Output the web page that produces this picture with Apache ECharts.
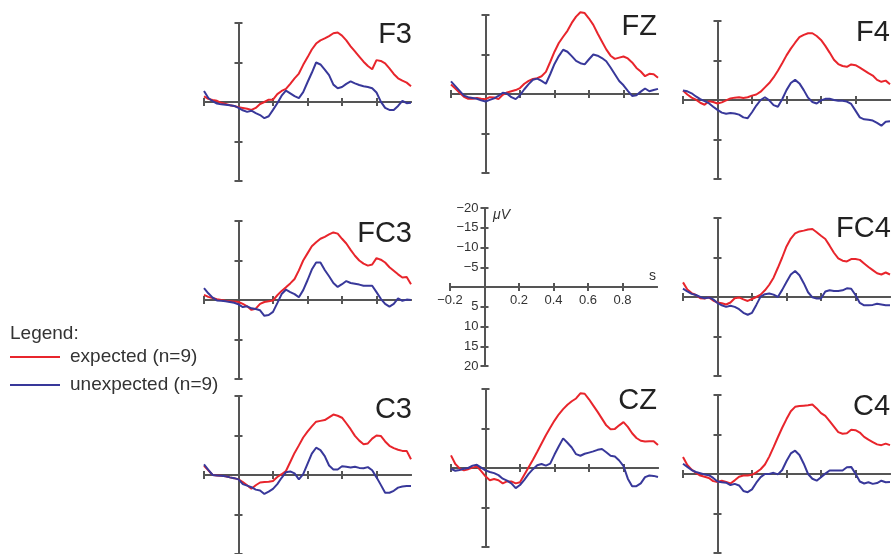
<!DOCTYPE html>
<html>
<head>
<meta charset="utf-8">
<script src="https://cdn.jsdelivr.net/npm/echarts@6/dist/echarts.min.js"></script>
<style>
  html, body { margin: 0; padding: 0; background: #fff; }
  #chart { width: 892px; height: 554px; }
</style>
</head>
<body>
<div id="chart"></div>
<script>
// sample times (s), shared by every waveform
const times = [
  -0.2, -0.175, -0.15, -0.125, -0.1, -0.075, -0.05, -0.025, 0,
  0.025, 0.05, 0.075, 0.1, 0.125, 0.15, 0.175, 0.2,
  0.225, 0.25, 0.275, 0.3, 0.325, 0.35, 0.375, 0.4,
  0.425, 0.45, 0.475, 0.5, 0.525, 0.55, 0.575, 0.6,
  0.625, 0.65, 0.675, 0.7, 0.725, 0.75, 0.775, 0.8,
  0.825, 0.85, 0.875, 0.9, 0.925, 0.95, 0.975, 1.0,
];

// amplitudes in µV (negative plotted up)
const f3Expected = [-1.4, -0.8, -0.5, -0.3, 0.2, 0.5, 0.8, 1.0, 1.3, 1.5, 1.7, 2.0, 1.5, 0.5, 0, -0.6, -0.6, -2.0, -2.8, -3.3, -4.6, -6.0, -7.2, -9.4, -11.3, -13.3, -14.8, -15.6, -16.1, -16.7, -17.4, -17.6, -16.8, -15.6, -14.1, -12.8, -11.5, -10.2, -9.1, -8.3, -10.6, -10.4, -9.8, -8.5, -7.1, -6.0, -5.4, -4.9, -4.0];
const f3Unexpected = [-2.8, -1.0, -0.2, 0.4, 0.6, 0.7, 0.8, 1.0, 1.5, 2.1, 2.5, 2.2, 2.8, 3.3, 4.1, 3.6, 2.0, 0.3, -1.6, -2.9, -2.2, -1.5, -1.0, -2.5, -5.0, -7.4, -10.0, -9.5, -8.2, -6.8, -4.4, -3.5, -3.8, -4.6, -5.2, -4.7, -4.3, -4.0, -3.8, -3.5, -2.4, -0.1, 1.5, 2.0, 2.0, 1.0, -0.3, 0.3, 0.2];

const fzExpected = [-2.4, -1.4, -0.3, 0.7, 1.2, 1.2, 1.0, 1.2, 1.3, 0.8, 0.9, 1.3, 0.2, -0.4, -0.7, -1.0, -1.5, -2.6, -3.3, -3.8, -4.0, -4.5, -5.6, -8.1, -10.7, -12.9, -14.5, -16.0, -18.0, -19.6, -20.7, -20.5, -19.1, -17.5, -15.3, -13.3, -11.3, -9.7, -8.9, -9.2, -9.5, -9.0, -8.0, -6.6, -5.7, -4.5, -5.1, -5.0, -4.1];
const fzUnexpected = [-3.2, -2.0, -0.8, 0.4, 0.8, 1.0, 1.2, 1.6, 1.9, 1.5, 1.1, 0.5, -0.3, -0.1, 0.8, 1.3, 0.3, -1.2, -2.5, -3.6, -3.9, -3.3, -2.6, -5.0, -7.6, -9.6, -11.2, -10.7, -9.6, -8.4, -7.8, -7.5, -8.8, -10.0, -9.7, -9.1, -8.3, -6.7, -5.0, -3.3, -2.2, -0.8, 0.5, 0.3, -0.6, -1.4, -0.7, -1.0, -1.3];

const f4Expected = [-2.4, -1.4, -0.6, -0.1, 0.7, 1.2, 0.3, 0.5, 0.9, 0.6, 0.1, -0.4, -0.6, -0.7, -0.5, -0.7, -1.1, -1.4, -2.1, -3.2, -4.3, -5.7, -7.4, -9.3, -11.3, -13.0, -14.5, -15.9, -16.5, -16.9, -16.9, -16.2, -15.2, -13.7, -12.0, -10.2, -9.1, -8.6, -8.4, -9.0, -8.8, -8.2, -7.5, -6.8, -6.2, -5.1, -4.6, -4.9, -4.0];
const f4Unexpected = [-2.4, -2.2, -1.7, -0.9, -0.2, 0.3, 0.8, 1.7, 2.5, 3.2, 3.5, 3.3, 3.4, 3.7, 4.4, 4.6, 3.1, 1.4, 0.0, -0.7, 0.1, 1.3, 1.7, -0.2, -2.5, -4.3, -5.1, -4.2, -2.5, -0.6, 0.5, 0.9, 0.1, -0.3, -0.3, 0.0, 0.2, 0.2, 0.4, 1.0, 2.7, 4.4, 4.9, 5.0, 5.2, 5.8, 6.5, 5.5, 5.4];

const fc3Expected = [-1.3, -0.8, -0.5, -0.2, 0, 0.2, 0.3, 0.4, 0.5, 1.0, 1.6, 2.5, 2.2, 1.0, 0.5, 0.3, 0.1, -1.2, -2.3, -3.2, -4.2, -5.3, -7.5, -10.0, -11.8, -13.6, -14.6, -15.5, -16.0, -16.6, -17.1, -16.8, -15.5, -14.3, -12.7, -11.2, -10.0, -9.2, -8.7, -9.0, -10.6, -10.2, -9.5, -8.3, -7.4, -6.5, -5.7, -5.8, -4.0];
const fc3Unexpected = [-3.0, -1.7, -0.6, 0.1, 0.2, 0.3, 0.5, 0.7, 1.1, 1.8, 1.6, 2.1, 2.3, 2.6, 4.0, 3.8, 3.0, 0.8, -1.5, -2.6, -2.0, -1.5, -0.7, -2.5, -5.0, -7.7, -9.5, -9.5, -7.6, -6.0, -4.3, -3.3, -4.0, -4.8, -4.3, -4.1, -3.9, -3.6, -3.6, -3.6, -2.0, -0.3, 1.0, 1.7, 1.0, -0.4, 0.2, -0.1, 0];

const fc4Expected = [-3.7, -1.9, -1.0, -0.5, 0.3, 0.4, 0.1, 0.9, 1.4, 1.6, 1.9, 1.4, 0.3, 0.1, 0.6, 1.0, 0.5, 0.0, -0.6, -1.7, -3.1, -4.9, -7.4, -10.0, -12.8, -14.8, -16.1, -16.6, -16.8, -17.1, -17.2, -16.4, -15.5, -14.7, -13.0, -11.2, -9.8, -9.2, -9.0, -9.6, -9.6, -9.4, -8.5, -7.6, -6.8, -6.0, -5.7, -6.2, -5.7];
const fc4Unexpected = [-2.1, -1.4, -0.8, -0.5, 0.0, 0.3, 0.1, 0.6, 1.5, 2.1, 2.5, 2.2, 2.5, 3.1, 4.0, 4.5, 4.0, 2.0, -0.1, -0.7, -0.9, -0.6, 0.0, -1.8, -3.8, -5.7, -6.6, -5.5, -3.5, -1.2, 0.1, 0.4, 0.4, -1.4, -1.7, -1.5, -1.5, -1.7, -2.2, -2.1, -0.5, 1.5, 2.1, 2.1, 2.0, 1.7, 1.9, 2.1, 2.1];

const c3Expected = [-2.3, -1.2, 0, 0.1, 0.2, 0.3, 0.6, 0.8, 1.1, 1.8, 2.6, 3.5, 2.6, 1.9, 1.8, 1.7, 1.5, 0.5, -0.2, -1.0, -3.3, -5.6, -7.5, -9.5, -11.0, -12.3, -13.5, -13.7, -13.9, -14.6, -15.3, -15.0, -14.5, -13.1, -11.6, -9.9, -8.7, -7.8, -8.0, -9.2, -10.0, -9.9, -8.5, -7.4, -6.8, -6.4, -6.1, -6.1, -4.0];
const c3Unexpected = [-2.7, -1.3, 0, 0.1, 0.2, 0.3, 0.6, 0.8, 1.1, 2.3, 2.7, 3.1, 3.7, 3.9, 4.8, 4.2, 3.5, 2.3, 0.7, -0.7, -0.9, -0.4, 1.1, -0.2, -2.8, -5.4, -6.9, -6.3, -4.8, -2.4, -1.4, -1.4, -2.2, -2.1, -1.9, -2.1, -1.8, -1.7, -2.0, -1.2, 0.6, 2.5, 4.5, 4.5, 4.0, 3.2, 2.9, 2.8, 2.8];

const czExpected = [-3.2, -1.0, 0.1, 0.6, 0.3, -0.1, -0.4, 0.8, 2.1, 3.1, 2.8, 3.1, 3.9, 3.4, 3.4, 3.9, 3.6, 1.7, -0.2, -2.1, -4.1, -6.2, -8.3, -10.2, -12.0, -13.6, -14.9, -16.0, -16.9, -17.6, -18.9, -18.8, -17.4, -15.8, -14.2, -12.5, -10.8, -9.8, -9.9, -10.8, -11.6, -10.4, -8.8, -7.6, -6.9, -6.7, -6.8, -6.8, -5.8];
const czUnexpected = [0.2, 0.7, 0.5, 0.2, 0.0, -0.6, -0.8, -0.1, 0.6, 1.0, 1.3, 1.8, 2.7, 3.2, 3.9, 5.1, 4.3, 3.0, 1.5, 0.3, -0.7, -1.0, -0.6, -1.1, -3.4, -5.5, -7.5, -6.4, -5.2, -3.5, -3.1, -3.6, -3.9, -4.2, -4.6, -4.8, -4.0, -3.1, -2.9, -1.9, -0.5, 2.7, 4.6, 4.6, 3.9, 2.3, 1.9, 2.0, 2.3];

const c4Expected = [-4.3, -2.3, -1.1, -0.3, 0.4, 0.7, 1.0, 1.8, 2.0, 1.7, 2.0, 2.4, 1.6, 0.7, 0.4, 0.4, 0.2, -0.4, -1.2, -2.4, -4.4, -6.8, -9.3, -11.7, -13.9, -15.9, -17.0, -17.2, -17.3, -17.4, -17.6, -16.6, -15.4, -14.7, -13.4, -12.0, -10.6, -10.2, -10.3, -11.2, -11.1, -10.5, -9.4, -8.7, -8.1, -7.5, -7.3, -7.7, -7.3];
const c4Unexpected = [-2.6, -1.8, -1.0, -0.5, -0.2, 0.1, 0.3, 1.0, 1.9, 2.1, 2.2, 2.8, 2.5, 2.9, 4.3, 4.6, 3.9, 2.2, 0.8, 0.0, 0.0, -0.3, 0.1, -1.0, -3.3, -5.2, -5.9, -4.8, -2.6, 0.0, 1.2, 1.7, 0.8, -0.1, -0.9, -0.9, -0.9, -0.9, -1.7, -1.8, -0.1, 1.9, 2.4, 2.1, 2.5, 2.3, 1.7, 2.1, 2.0];

const seriesNames = ["expected (n=9)", "unexpected (n=9)"];
const xTicks = [-0.2, 0.2, 0.4, 0.6, 0.8];
const yTicks = [-20, -10, 10, 20];
const scaleXLabels = [-0.2, 0.2, 0.4, 0.6, 0.8];

const panels = [
  { name: "F3", expected: f3Expected, unexpected: f3Unexpected },
  { name: "FZ", expected: fzExpected, unexpected: fzUnexpected },
  { name: "F4", expected: f4Expected, unexpected: f4Unexpected },
  { name: "FC3", expected: fc3Expected, unexpected: fc3Unexpected },
  { name: "FC4", expected: fc4Expected, unexpected: fc4Unexpected },
  { name: "C3", expected: c3Expected, unexpected: c3Unexpected },
  { name: "CZ", expected: czExpected, unexpected: czUnexpected },
  { name: "C4", expected: c4Expected, unexpected: c4Unexpected },
];

// pixel boxes of each small plot (x: -0.2..1.0 s, y: -20..20 µV)
const boxes = {
  F3:  { left: 204, top: 23,  lx: 412, ly: 35,  align: "right" },
  FZ:  { left: 451, top: 15,  lx: 657, ly: 27,  align: "right" },
  F4:  { left: 683, top: 21,  lx: 856, ly: 33,  align: "left" },
  FC3: { left: 204, top: 221, lx: 412, ly: 234, align: "right" },
  FC4: { left: 683, top: 218, lx: 836, ly: 229, align: "left" },
  C3:  { left: 204, top: 396, lx: 412, ly: 410, align: "right" },
  CZ:  { left: 451, top: 389, lx: 657, ly: 401, align: "right" },
  C4:  { left: 683, top: 395, lx: 853, ly: 407, align: "left" },
  scale: { left: 450, top: 208 },
};
const PW = 207, PH = 158;
const X_MIN = -0.2, X_MAX = 1.0;

const RED = "#e8252c";
const BLUE = "#38389a";
const AXIS = "#555555";
const FONT = "Liberation Sans, Arial, sans-serif";

const grids = [];
const xAxes = [];
const yAxes = [];
const series = [];
const graphics = [];

function minus(v) {
  return v < 0 ? "\u2212" + String(-v) : String(v);
}

function addPanel(box, withLabels) {
  const g = grids.length;
  grids.push({ left: box.left, top: box.top, width: PW, height: PH });
  ["bottom", "top"].forEach((pos) => {
    const labelled = withLabels && pos === "bottom";
    xAxes.push({
      gridIndex: g,
      type: "value",
      position: pos,
      min: X_MIN,
      max: X_MAX,
      // the labelled axis is shifted onto y = 0 (labels stay with it)
      offset: labelled ? -PH / 2 : 0,
      axisLine: {
        onZero: !labelled,
        onZeroAxisIndex: 2 * g,
        lineStyle: { color: AXIS, width: 2 },
      },
      axisTick: {
        customValues: xTicks,
        length: 4,
        lineStyle: { color: AXIS, width: 2 },
      },
      axisLabel: {
        show: labelled,
        customValues: scaleXLabels,
        margin: 7,
        fontSize: 13,
        fontFamily: FONT,
        color: "#333",
        formatter: (v) => (v < 0 ? "\u2212" + (-v).toFixed(1) : v.toFixed(1)),
      },
      splitLine: { show: false },
    });
  });
  ["left", "right"].forEach((pos) => {
    const labelled = withLabels && pos === "left";
    yAxes.push({
      gridIndex: g,
      type: "value",
      position: pos,
      inverse: true,
      min: -20,
      max: 20,
      interval: 5,
      offset: labelled ? -PW * (0 - X_MIN) / (X_MAX - X_MIN) : 0,
      axisLine: {
        onZero: !labelled,
        onZeroAxisIndex: 2 * g,
        lineStyle: { color: AXIS, width: 2 },
      },
      axisTick: withLabels
        ? { length: 4, lineStyle: { color: AXIS, width: 2 } }
        : { customValues: yTicks, length: 4, lineStyle: { color: AXIS, width: 2 } },
      axisLabel: {
        show: labelled,
        margin: 6,
        fontSize: 13,
        fontFamily: FONT,
        color: "#333",
        formatter: (v) => (v === 0 ? "" : minus(v)),
      },
      splitLine: { show: false },
    });
  });
  return { x: 2 * g, y: 2 * g };
}

panels.forEach((p) => {
  const box = boxes[p.name];
  const idx = addPanel(box, false);
  [p.expected, p.unexpected].forEach((vals, k) => {
    series.push({
      name: seriesNames[k],
      type: "line",
      xAxisIndex: idx.x,
      yAxisIndex: idx.y,
      data: times.map((t, i) => [t, vals[i]]),
      showSymbol: false,
      clip: false,
      z: k === 0 ? 3 : 4,
      color: k === 0 ? RED : BLUE,
      lineStyle: { width: 2, color: k === 0 ? RED : BLUE },
      emphasis: { disabled: true },
    });
  });
  graphics.push({
    type: "text",
    style: {
      text: p.name,
      x: box.lx,
      y: box.ly,
      align: box.align,
      verticalAlign: "middle",
      font: "29px " + FONT,
      fill: "#222",
    },
  });
});

// scale panel in the middle
addPanel(boxes.scale, true);
graphics.push({
  type: "text",
  style: { text: "\u03bcV", x: 493, y: 215, verticalAlign: "middle", font: "italic 14px " + FONT, fill: "#333" },
});
graphics.push({
  type: "text",
  style: { text: "s", x: 656, y: 276, align: "right", verticalAlign: "middle", font: "14px " + FONT, fill: "#333" },
});

const chart = echarts.init(document.getElementById("chart"), null, { renderer: "canvas" });
chart.setOption({
  animation: false,
  backgroundColor: "#fff",
  title: {
    text: "Legend:",
    left: 5,
    top: 319,
    textStyle: { fontSize: 19, fontWeight: "normal", color: "#333", fontFamily: FONT },
  },
  legend: {
    data: seriesNames,
    orient: "vertical",
    left: 10,
    top: 347,
    padding: 0,
    icon: "rect",
    itemWidth: 50,
    itemHeight: 2,
    itemGap: 8,
    selectedMode: false,
    textStyle: { fontSize: 19, color: "#333", fontFamily: FONT, lineHeight: 20, padding: [0, 0, 0, 5] },
  },
  grid: grids,
  xAxis: xAxes,
  yAxis: yAxes,
  series: series,
  graphic: graphics,
});
</script>
</body>
</html>
